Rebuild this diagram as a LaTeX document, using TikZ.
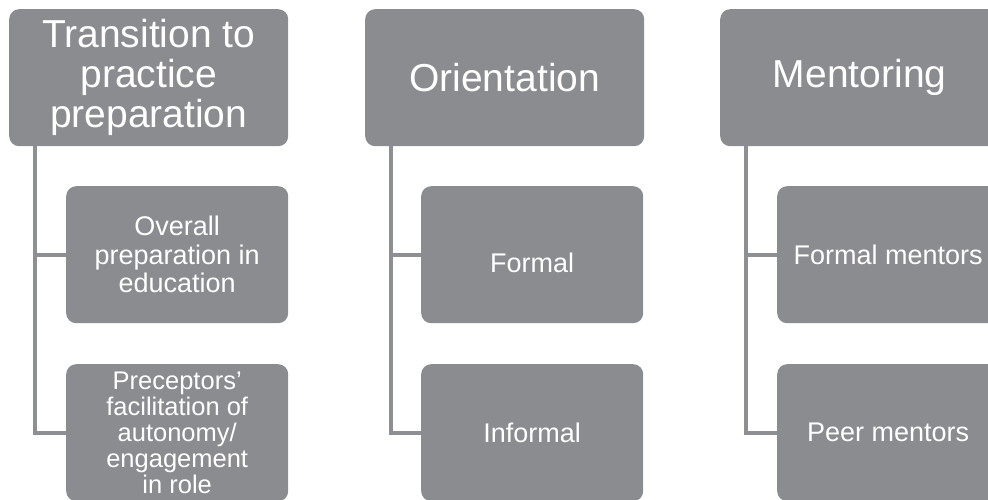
\documentclass[tikz,border=0pt]{standalone}
\usepackage{fontspec}
\setmainfont{Liberation Sans}
\definecolor{boxgray}{HTML}{8B8C90}
\definecolor{linegray}{HTML}{8E8F93}
\tikzset{
  topbox/.style={fill=boxgray, rounded corners=10pt, minimum width=279pt, minimum height=137pt, inner sep=0pt, anchor=north west, text=white, align=center, font=\fontsize{39}{40}\selectfont},
  subbox/.style={fill=boxgray, rounded corners=10pt, minimum width=222pt, minimum height=137pt, inner sep=0pt, anchor=north west, text=white, align=center, font=\fontsize{27}{28.5}\selectfont},
  conn/.style={draw=linegray, line width=4pt}
}
\begin{document}
\begin{tikzpicture}[x=1pt,y=-1pt]
\useasboundingbox (0,0) rectangle (988,500);
\clip (0,0) rectangle (988,500);
% column 1
\node[topbox] (t1) at (9,9) {Transition to\\practice\\preparation};
\node[subbox] (s11) at (66,186) {Overall\\preparation in\\education};
\node[subbox, font=\fontsize{25.5}{26}\selectfont] (s12) at (66,364) {Preceptors’\\facilitation of\\autonomy/\\engagement\\in role};
% column 2
\node[topbox] (t2) at (365,9) {Orientation};
\node[subbox] (s21) at (421,186) {\raisebox{-8.5pt}[\height][\depth]{Formal}};
\node[subbox] (s22) at (421,364) {Informal};
% column 3
\node[topbox] (t3) at (720,9) {Mentoring};
\node[subbox] (s31) at (777,186) {Formal mentors};
\node[subbox] (s32) at (777,364) {Peer mentors};
% connectors
\foreach \t/\a/\b in {t1/s11/s12, t2/s21/s22, t3/s31/s32}{
  \draw[conn] ([xshift=26pt]\t.south west) |- (\a.west);
  \draw[conn] ([xshift=26pt]\t.south west) |- (\b.west);
}
\end{tikzpicture}
\end{document}
